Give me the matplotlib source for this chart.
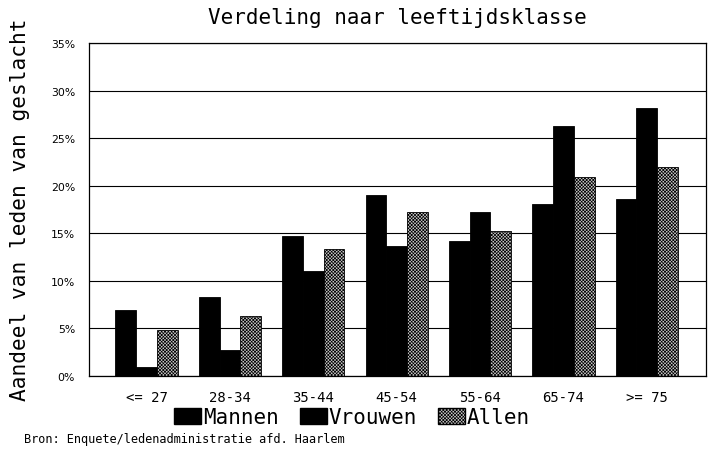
import matplotlib
matplotlib.use("Agg")
import matplotlib.pyplot as plt
import numpy as np
from matplotlib.patches import Patch

categories = ["<= 27", "28-34", "35-44", "45-54", "55-64", "65-74", ">= 75"]
mannen = [6.9, 8.3, 14.7, 19.0, 14.2, 18.1, 18.6]
vrouwen = [0.9, 2.7, 11.0, 13.7, 17.2, 26.3, 28.2]
allen = [4.8, 6.3, 13.4, 17.2, 15.2, 20.9, 22.0]
y_ticks = [0, 5, 10, 15, 20, 25, 30, 35]

mono = "DejaVu Sans Mono"
plt.rcParams["hatch.linewidth"] = 0.5
plt.rcParams["hatch.color"] = "black"
allen_face = "#c8c8c8"
allen_hatch = "xxxxxxxxxx"

fig = plt.figure(figsize=(7.23, 4.56), dpi=100)
ax = fig.add_axes([89 / 723, 1 - 377 / 456, 617 / 723, 333 / 456])

x = np.arange(len(categories))
w = 0.249
ax.bar(x - w, mannen, w, color="black", edgecolor="black", linewidth=0.6, zorder=2)
ax.bar(x, vrouwen, w, color="black", edgecolor="black", linewidth=0.6, zorder=2)
ax.bar(x + w, allen, w, color=allen_face, edgecolor="black", hatch=allen_hatch,
       linewidth=0.6, zorder=2)

ax.set_xlim(-0.69, 6.71)
ax.set_ylim(0, 35)
ax.set_yticks(y_ticks)
ax.set_yticklabels([f"{t}%" for t in y_ticks], fontsize=7.8, family="DejaVu Sans")
ax.set_xticks(x)
ax.set_xticklabels(categories, fontsize=10, family=mono)
ax.tick_params(axis="both", length=0)
ax.tick_params(axis="y", pad=10)
ax.tick_params(axis="x", pad=10)
ax.yaxis.grid(True, color="black", linewidth=0.8)
ax.set_axisbelow(True)
for s in ax.spines.values():
    s.set_linewidth(0.9)
    s.set_color("black")

fig.text(397 / 723, 1 - 18 / 456, "Verdeling naar leeftijdsklasse", family=mono,
         fontsize=15, ha="center", va="center")
fig.text(20 / 723, 1 - 210 / 456, "Aandeel van leden van geslacht", family=mono,
         fontsize=15.2, ha="center", va="center", rotation=90)
fig.text(24 / 723, 1 - 440 / 456, "Bron: Enquete/ledenadministratie afd. Haarlem",
         family=mono, fontsize=8.6, ha="left", va="center")

handles = [
    Patch(facecolor="black", edgecolor="black", label="Mannen"),
    Patch(facecolor="black", edgecolor="black", label="Vrouwen"),
    Patch(facecolor=allen_face, edgecolor="black", hatch=allen_hatch, label="Allen"),
]
fig.legend(handles=handles, loc="center", bbox_to_anchor=(352 / 723, 1 - 418 / 456),
           ncol=3, frameon=False, prop={"family": mono, "size": 15},
           handlelength=1.3, handleheight=0.8, handletextpad=0.1,
           columnspacing=1.0, borderaxespad=0, borderpad=0)

fig.savefig("out.png", dpi=100)
